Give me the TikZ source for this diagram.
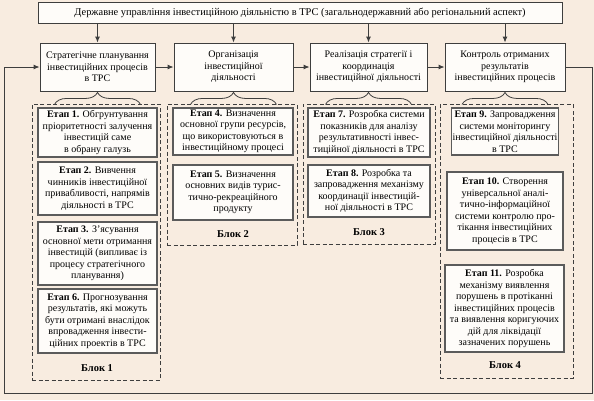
\documentclass[tikz,border=0pt]{standalone}
\usepackage{fontspec}
\setmainfont{Liberation Serif}
\usetikzlibrary{arrows.meta,decorations.pathreplacing}
\definecolor{bgpeach}{RGB}{248,236,224}
\definecolor{boxfill}{RGB}{254,252,249}
\definecolor{linegray}{RGB}{62,62,62}

\begin{document}
\begin{tikzpicture}[x=1pt,y=-1pt,
        every node/.style={font=\fontsize{10}{11.5}\selectfont,align=center,inner sep=1pt},
        mainbox/.style={draw=linegray,fill=boxfill,line width=0.9pt,minimum height=48pt},
        etapbox/.style={draw=linegray!85,fill=boxfill,line width=1.3pt,minimum width=119pt},
        blockbox/.style={draw=linegray,dashed,dash pattern=on 4pt off 2.5pt,line width=0.8pt},
        blocklabel/.style={font=\fontsize{10.5}{12}\selectfont\bfseries},
        arr/.style={draw=linegray,line width=0.9pt,-{Latex[length=6pt,width=5pt]}},
        brc/.style={draw=linegray,line width=0.8pt,decorate,decoration={brace,amplitude=12pt}}]
        \fill[bgpeach] (0,0) rectangle (594,400);
        \useasboundingbox (0,0) rectangle (594,400);

        % top level
        \node[mainbox,minimum width=524pt,minimum height=21pt,font=\fontsize{10.4}{12}\selectfont] (t) at (300,12.5) {Державне управління інвестиційною діяльністю в ТРС (загальнодержавний або регіональний аспект)};

        \node[mainbox,minimum width=115pt] (b1) at (97.5,67) {Стратегічне планування\\інвестиційних процесів\\в ТРС};
        \node[mainbox,minimum width=119pt] (b2) at (233.5,67) {Організація\\інвестиційної\\діяльності};
        \node[mainbox,minimum width=117pt] (b3) at (368.5,67) {Реалізація стратегії і\\координація\\інвестиційної діяльності};
        \node[mainbox,minimum width=120pt] (b4) at (505,67) {Контроль отриманих\\результатів\\інвестиційних процесів};

        \foreach \b in {b1,b2,b3,b4}
            \draw[arr] (t.south -| \b.north) -- (\b.north);
        \draw[arr] (b1) -- (b2);
        \draw[arr] (b2) -- (b3);
        \draw[arr] (b3) -- (b4);

        % feedback loop
        \coordinate (loopR) at (592,393);
        \coordinate (loopL) at (4,393);
        \draw[arr] (b4.east) -| (loopR) -- (loopL) |- (b1.west);

        % blocks
        \node[blockbox,minimum width=128pt,minimum height=276pt] (blk1) at (96,242) {};
        \node[blockbox,minimum width=130pt,minimum height=141pt] (blk2) at (232,174.5) {};
        \node[blockbox,minimum width=132pt,minimum height=140pt] (blk3) at (369,174) {};
        \node[blockbox,minimum width=133pt,minimum height=274pt] (blk4) at (506.5,241) {};

        \foreach \b in {b1,b2,b3,b4}
            \draw[brc] ([xshift=-43pt,yshift=-13pt]\b.south) -- ([xshift=43pt,yshift=-13pt]\b.south);

        % block 1
        \node[etapbox,minimum height=49pt] (e1) at (97.5,132.5) {\textbf{Етап 1.} Обгрунтування\\пріоритетності залучення\\інвестицій саме\\в обрану галузь};
        \node[etapbox,minimum height=53pt] (e2) at (97.5,188.5) {\textbf{Етап 2.} Вивчення\\чинників інвестиційної\\привабливості, напрямів\\діяльності в ТРС};
        \node[etapbox,minimum height=63pt] (e3) at (97.5,253.5) {\textbf{Етап 3.} З’ясування\\основної мети отримання\\інвестицій (випливає із\\процесу стратегічного\\планування)};
        \node[etapbox,minimum height=64pt] (e6) at (97.5,321) {\textbf{Етап 6.} Прогнозування\\результатів, які можуть\\бути отримані внаслідок\\впровадження інвести-\\ційних проектів в ТРС};
        \node[blocklabel] (lbl1) at (97,368) {Блок 1};

        % block 2
        \node[etapbox,minimum width=120pt,minimum height=47pt] (e4) at (233,131.5) {\textbf{Етап 4.} Визначення\\основної групи ресурсів,\\що використовуються в\\інвестиційному процесі};
        \node[etapbox,minimum width=120pt,minimum height=55pt] (e5) at (233,192.5) {\textbf{Етап 5.} Визначення\\основних видів турис-\\тично-рекреаційного\\продукту};
        \node[blocklabel] (lbl2) at (233,234) {Блок 2};

        % block 3
        \node[etapbox,minimum width=122pt,minimum height=49pt] (e7) at (369,132.5) {\textbf{Етап 7.} Розробка системи\\показників для аналізу\\результативності інвес-\\тиційної діяльності в ТРС};
        \node[etapbox,minimum width=122pt,minimum height=52pt] (e8) at (369,191) {\textbf{Етап 8.} Розробка та\\запровадження механізму\\координації інвестицій-\\ної діяльності в ТРС};
        \node[blocklabel] (lbl3) at (369,232) {Блок 3};

        % block 4
        \node[etapbox,minimum width=106pt,minimum height=47pt] (e9) at (505,131.5) {\textbf{Етап 9.} Запровадження\\системи моніторингу\\інвестиційної діяльності\\в ТРС};
        \node[etapbox,minimum width=116pt,minimum height=78pt] (e10) at (505,211) {\textbf{Етап 10.} Створення\\універсальної аналі-\\тично-інформаційної\\системи контролю про-\\тікання інвестиційних\\процесів в ТРС};
        \node[etapbox,minimum width=119pt,minimum height=87pt] (e11) at (504.5,308.5) {\textbf{Етап 11.} Розробка\\механізму виявлення\\порушень в протіканні\\інвестиційних процесів\\та виявлення коригуючих\\дій для ліквідації\\зазначених порушень};
        \node[blocklabel] (lbl4) at (505,365) {Блок 4};
\end{tikzpicture}
\end{document}
